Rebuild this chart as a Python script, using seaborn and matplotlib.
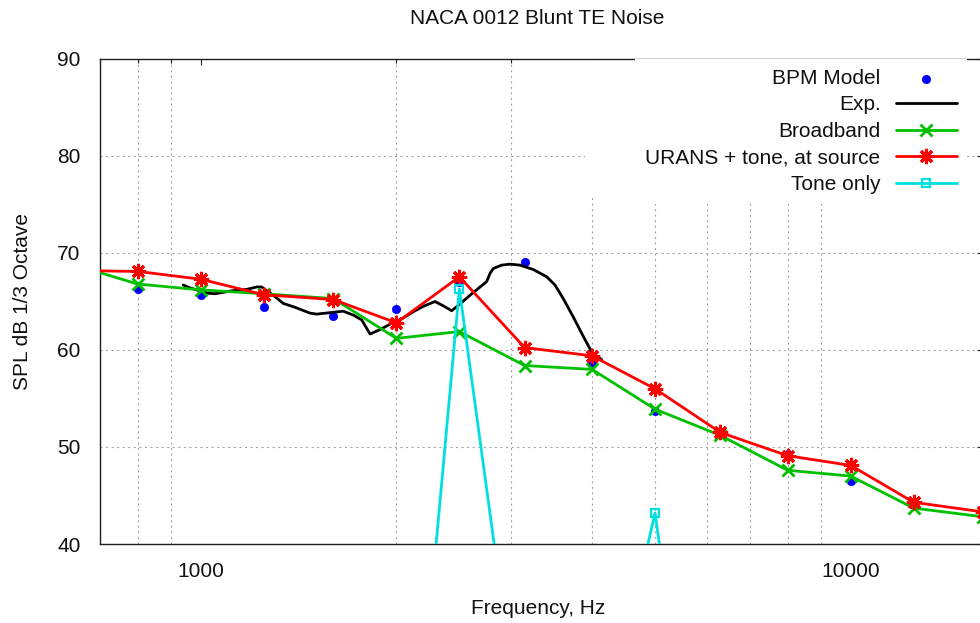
import matplotlib
matplotlib.use("Agg")
import matplotlib.pyplot as plt
import seaborn as sns
from matplotlib.patches import Rectangle
from matplotlib.ticker import FixedLocator, FixedFormatter, NullFormatter

# 1/3-octave band centres (Hz)
bands = [630, 800, 1000, 1250, 1600, 2000, 2500, 3150, 4000, 5000,
         6300, 8000, 10000, 12500, 16000]
broadband = [68.9, 66.8, 66.2, 65.8, 65.3, 61.2, 61.9, 58.4, 58.0, 53.9,
             51.2, 47.6, 47.0, 43.7, 42.8]
urans_tone = [68.2, 68.1, 67.3, 65.7, 65.2, 62.8, 67.55, 60.25, 59.4, 56.0,
              51.5, 49.1, 48.1, 44.3, 43.3]

tone_bands = [800, 1000, 1250, 1600, 2000, 2500, 3150, 4000, 5000,
              6300, 8000, 10000, 12500, 16000]
tone_only = [-10.0, -10.0, -10.0, -10.0, -5.0, 66.3, 17.0, 14.6, 43.2,
             -5.0, -10.0, -10.0, -10.0, -10.0]

bpm_freq = [800, 1000, 1250, 1600, 2000, 2500, 3150, 4000, 5000,
            6300, 8000, 10000, 12500, 16000]
bpm_spl = [66.3, 65.7, 64.4, 63.5, 64.2, 67.0, 69.05, 58.6, 53.7,
           51.4, 49.3, 46.5, 44.0, 43.0]

# measured spectrum (narrow-band trace)
exp_freq = [940, 963, 1027, 1052, 1116, 1177, 1220, 1241, 1264, 1301,
            1340, 1397, 1473, 1508, 1581, 1657, 1717, 1769, 1822, 1887,
            1967, 2026, 2124, 2200, 2293, 2362, 2433, 2506, 2581, 2674,
            2754, 2787, 2819, 2905, 2991, 3099, 3248, 3406, 3508, 3612,
            3743, 3878, 3995, 4139]
exp_spl = [66.7, 66.4, 65.85, 65.8, 66.1, 66.25, 66.5, 66.5, 66.1, 65.5,
           64.8, 64.4, 63.8, 63.7, 63.85, 64.0, 63.6, 63.1, 61.65, 62.1,
           62.75, 63.1, 63.95, 64.5, 65.0, 64.55, 64.05, 64.75, 65.5, 66.35,
           67.05, 67.9, 68.4, 68.75, 68.85, 68.75, 68.3, 67.55, 66.7, 65.3,
           63.4, 61.4, 59.8, 59.0]

x_major = [1000, 10000]
x_major_labels = ["1000", "10000"]
x_minor = [700, 800, 900, 2000, 3000, 4000, 5000, 6000, 7000, 8000, 9000, 20000]
y_ticks = [40, 50, 60, 70, 80, 90]

FS = 15
TXT = "#111111"

sns.set_theme(style="white")
plt.rcParams["font.family"] = ["Liberation Sans", "DejaVu Sans"]
plt.rcParams["font.size"] = FS

fig = plt.figure(figsize=(9.8, 6.23), dpi=100)
ax = fig.add_axes([100 / 980, 79 / 623, 883.4 / 980, 485 / 623])
ax.set_xscale("log")

sns.scatterplot(x=bpm_freq, y=bpm_spl, ax=ax, color="#0000ff", marker="o",
                s=36, edgecolor="#0000ff", linewidth=0.5, label="BPM Model",
                zorder=3)
sns.lineplot(x=exp_freq, y=exp_spl, ax=ax, color="black", lw=2,
             sort=False, label="Exp.", zorder=3)
sns.lineplot(x=bands, y=broadband, ax=ax, color="#00c000", lw=2,
             marker="x", markersize=9, markeredgewidth=2,
             markeredgecolor="#00c000", label="Broadband", zorder=3)
sns.lineplot(x=bands, y=urans_tone, ax=ax, color="#ff0000", lw=2,
             marker=(8, 2, 0), markersize=11, markeredgewidth=2.2,
             markeredgecolor="#ff0000", label="URANS + tone, at source",
             zorder=3)
sns.lineplot(x=tone_bands, y=tone_only, ax=ax, color="#00e0e0", lw=2,
             marker="s", markersize=6, markerfacecolor="none",
             markeredgewidth=1.6, markeredgecolor="#00e0e0",
             label="Tone only", zorder=3)

ax.set_xlim(700, 16000)
ax.set_ylim(40, 90)

ax.xaxis.set_major_locator(FixedLocator(x_major))
ax.xaxis.set_major_formatter(FixedFormatter(x_major_labels))
ax.xaxis.set_minor_locator(FixedLocator(x_minor))
ax.xaxis.set_minor_formatter(NullFormatter())
ax.set_yticks(y_ticks)
ax.set_yticklabels([str(v) for v in y_ticks])

ax.tick_params(which="both", direction="in", top=True, right=True,
               color="#202020", width=0.8, labelsize=FS, labelcolor=TXT)
ax.tick_params(axis="x", which="major", length=4.5, pad=13)
ax.tick_params(axis="x", which="minor", length=3)
ax.tick_params(axis="y", which="major", length=4.5, pad=14)

for sp in ax.spines.values():
    sp.set_color("#202020")
    sp.set_linewidth(1.0)

grid_kw = dict(color="#a0a0a0", linestyle=(0, (1.8, 3.2)), linewidth=0.8)
ax.grid(False)
ax.grid(True, which="minor", axis="x", **grid_kw)
ax.grid(True, which="major", axis="y", **grid_kw)
ax.set_axisbelow(True)

# blank key area (grid is hidden behind the key)
ax.add_patch(Rectangle(((585 - 100) / 883.4, 1 - (195 - 59) / 485),
                       (966 - 585) / 883.4, (195 - 59) / 485,
                       transform=ax.transAxes, facecolor="white",
                       edgecolor="none", zorder=1.5))

ax.set_xlabel("Frequency, Hz", fontsize=FS, color=TXT)
ax.xaxis.set_label_coords(0.4958, -0.132)
ax.xaxis.label.set_va("center")
ax.set_ylabel("SPL dB 1/3 Octave", fontsize=FS, color=TXT)
ax.yaxis.set_label_coords(-0.0875, 0.5)
ax.yaxis.label.set_va("center")

fig.text(537 / 980, 1 - 19 / 623, "NACA 0012 Blunt TE Noise",
         ha="center", va="center", fontsize=FS, color=TXT)

handles, labels = ax.get_legend_handles_labels()
leg = ax.legend(handles, labels, loc="upper right",
                bbox_to_anchor=(0.981, 1.0), markerfirst=False,
                frameon=True, fancybox=False, framealpha=1.0,
                facecolor="white", edgecolor="none", fontsize=FS,
                handlelength=2.9, handletextpad=0.75, labelspacing=0.36,
                borderpad=0.48, borderaxespad=0.0, numpoints=1)
for t in leg.get_texts():
    t.set_color(TXT)

fig.savefig("out.png", dpi=100)
